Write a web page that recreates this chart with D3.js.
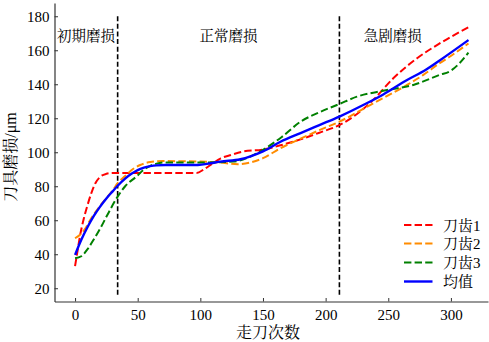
<!DOCTYPE html>
<html>
<head>
<meta charset="utf-8">
<script src="https://cdn.jsdelivr.net/npm/d3@7"></script>
<style>
  body { margin: 0; background: #fff; }
  text { font-family: "Liberation Serif", "Noto Serif CJK SC", "Noto Sans CJK SC", serif; fill: #000; }
</style>
</head>
<body>
<svg id="chart"></svg>
<script>
// 画面サイズ
var w = 489;
var h = 342;

// データ
var tooth1_x = [0, 2, 4, 7, 10, 13, 16, 20, 25, 30, 60, 97, 103, 110, 116, 125, 134, 150, 165, 180, 195, 211, 225, 238, 254, 273, 291, 314];
var tooth1_y = [33, 42, 51, 61, 69, 76, 81.5, 85.5, 87.3, 87.8, 87.8, 87.8, 90, 93.5, 96.3, 98.5, 100.4, 101.6, 104.3, 107.6, 111.5, 116, 122.5, 130.8, 143.5, 155.3, 164, 173.5];

var tooth2_x = [0, 4, 8, 12, 16, 20, 25, 30, 34, 40, 46, 52, 60, 70, 100, 115, 130, 140, 150, 164, 180, 195, 211, 238, 265, 278, 291, 299, 314];
var tooth2_y = [49.4, 51.5, 55, 60, 64.5, 68.5, 73, 77.5, 81.8, 86, 90, 92.5, 94.2, 94.8, 94.5, 94, 93, 94, 96.5, 102.4, 108, 113, 118, 128.8, 139.6, 145.5, 152.4, 156.2, 164];

var tooth3_x = [0, 5, 10, 15, 20, 25, 34, 40, 49, 55, 60, 65, 72, 100, 126, 140, 150, 165, 180, 195, 211, 225, 246, 270, 291, 300, 307, 314];
var tooth3_y = [37.6, 38.8, 43, 48.8, 55, 62, 73.9, 80, 85.7, 89.8, 92, 93.3, 94, 94, 94.5, 97.5, 101.4, 109, 118, 123.5, 128.4, 132.7, 136.2, 139.6, 145.5, 148, 152.5, 158.6];

var mean_x = [0, 5, 10, 15, 20, 25, 30, 34, 40, 45, 50, 55, 60, 65, 72, 98, 108, 116, 132, 140, 150, 164, 180, 195, 211, 232, 246, 265, 280, 291, 314];
var mean_y = [39.6, 48.5, 56, 62.5, 68, 72.8, 77, 80.3, 84.5, 87.3, 89.5, 90.9, 91.8, 92.3, 92.5, 92.5, 93.5, 94.5, 95.9, 97.6, 100.5, 106.2, 111.3, 116, 121, 128.5, 134, 142.5, 148.5, 154, 166];

var series_names = ["刀齿1", "刀齿2", "刀齿3", "均值"];
var series_colors = ["#ff0000", "#ff8c00", "#008000", "#0000ff"];

var x_ticks = [0, 50, 100, 150, 200, 250, 300];
var y_ticks = [20, 40, 60, 80, 100, 120, 140, 160, 180];

var stage_x = [34, 211];
var stage_names = ["初期磨损", "正常磨损", "急剧磨损"];
var stage_label_x = [0, 122.5, 253.5]; // 各段ラベル中心（走刀次数）

var series = [
  { x: tooth1_x, y: tooth1_y },
  { x: tooth2_x, y: tooth2_y },
  { x: tooth3_x, y: tooth3_y },
  { x: mean_x, y: mean_y }
];

// 描画領域（window.top と衝突しないよう別名）
var pl = 54.5, pr = 488, pt = 3, pb = 301.5;

var svg = d3.select("#chart")
  .attr("width", w)
  .attr("height", h);

var xscale = d3.scaleLinear().domain([-16.4, 329.6]).range([pl, pr]);
var yscale = d3.scaleLinear().domain([12.2, 187.8]).range([pb, pt]);

// 軸（目盛りは内向き）
var xaxis = d3.axisBottom(xscale).tickValues(x_ticks).tickSize(-3.5).tickPadding(6).tickSizeOuter(0);
var yaxis = d3.axisLeft(yscale).tickValues(y_ticks).tickSize(-3.5).tickPadding(5).tickSizeOuter(0);

var gx = svg.append("g").attr("transform", "translate(0," + pb + ")").call(xaxis);
var gy = svg.append("g").attr("transform", "translate(" + pl + ",0)").call(yaxis);

[gx, gy].forEach(function (g) {
  g.attr("font-family", null).attr("font-size", null);
  g.select(".domain").attr("stroke", "#333").attr("stroke-width", 1.2);
  g.selectAll(".tick line").attr("stroke", "#333").attr("stroke-width", 1);
  g.selectAll(".tick text")
    .style("font-family", "'Liberation Serif', serif")
    .style("font-size", "15px")
    .attr("fill", "#000");
});
gx.selectAll(".tick text").attr("y", 8).attr("dy", "0.71em");
gy.selectAll(".tick text").attr("x", -5);

// 段の区切り線
svg.selectAll(".stage")
  .data(stage_x)
  .enter()
  .append("line")
  .attr("x1", d => xscale(d))
  .attr("x2", d => xscale(d))
  .attr("y1", yscale(180))
  .attr("y2", yscale(15))
  .attr("stroke", "#000")
  .attr("stroke-width", 1.6)
  .attr("stroke-dasharray", "5,2.6");

svg.selectAll(".stage-label")
  .data(stage_names)
  .enter()
  .append("text")
  .attr("x", (d, i) => i == 0 ? 57 : xscale(stage_label_x[i]))
  .attr("y", 41)
  .attr("text-anchor", (d, i) => i == 0 ? "start" : "middle")
  .style("font-size", "14.5px")
  .text(d => d);

// 曲線
var line = d3.line()
  .x(d => xscale(d[0]))
  .y(d => yscale(d[1]))
  .curve(d3.curveMonotoneX);

series.forEach(function (s, i) {
  var pts = s.x.map((v, j) => [v, s.y[j]]);
  svg.append("path")
    .datum(pts)
    .attr("d", line)
    .attr("fill", "none")
    .attr("stroke", series_colors[i])
    .attr("stroke-width", i == 3 ? 2.4 : 2)
    .attr("stroke-dasharray", i == 3 ? null : "7.4,3.2");
});

// 凡例
var legend = svg.append("g");
var leg_y = [225, 243.5, 262.5, 281.5];
series_names.forEach(function (name, i) {
  legend.append("line")
    .attr("x1", 404).attr("x2", 432.5)
    .attr("y1", leg_y[i]).attr("y2", leg_y[i])
    .attr("stroke", series_colors[i])
    .attr("stroke-width", i == 3 ? 2.4 : 2)
    .attr("stroke-dasharray", i == 3 ? null : "7.4,3.2");
  legend.append("text")
    .attr("x", 443)
    .attr("y", leg_y[i] + 5.5)
    .style("font-size", "15px")
    .text(name);
});

// 軸ラベル
svg.append("text")
  .attr("x", 268)
  .attr("y", 338)
  .attr("text-anchor", "middle")
  .style("font-size", "16px")
  .text("走刀次数");

svg.append("text")
  .attr("transform", "translate(16,157) rotate(-90)")
  .attr("text-anchor", "middle")
  .style("font-size", "16px")
  .text("刀具磨损/μm");
</script>
</body>
</html>
